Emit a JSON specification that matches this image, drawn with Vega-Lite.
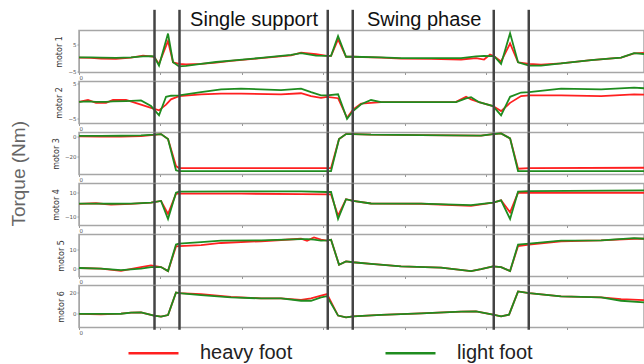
{
  "$schema": "https://vega.github.io/schema/vega-lite/v6.json",
  "background": "white",
  "padding": {"left": 8, "top": 7.5, "right": 0, "bottom": 0},
  "spacing": 9,
  "bounds": "flush",
  "config": {
    "view": {"stroke": "#a6a6a6", "strokeWidth": 1.5},
    "axis": {"domainColor": "#a6a6a6", "tickColor": "#999", "labelColor": "#555", "labelFont": "DejaVu Sans", "labelFontSize": 5.5, "tickSize": 2, "labelPadding": 1, "grid": false, "titleFont": "DejaVu Sans", "titleFontSize": 8, "titleFontWeight": "normal", "titleColor": "#333", "titlePadding": 4}
  },
  "resolve": {"scale": {"x": "independent", "y": "independent", "color": "shared"}, "legend": {"color": "shared"}},
  "datasets": {
    "phases": [{"x": 18.55}, {"x": 24.69}, {"x": 61.11}, {"x": 67.25}, {"x": 101.89}, {"x": 110.49}],
    "d": [
      {"m":1,"x":0,"heavy foot":0.2,"light foot":0.3},{"m":1,"x":2.95,"heavy foot":0.1,"light foot":0.3},{"m":1,"x":5.41,"heavy foot":-0.2,"light foot":0.2},{"m":1,"x":9.09,"heavy foot":-0.3,"light foot":0.1},{"m":1,"x":12.78,"heavy foot":0.2,"light foot":0.3},{"m":1,"x":15.72,"heavy foot":0.9,"light foot":0.6},{"m":1,"x":17.69,"heavy foot":0.6,"light foot":0.7},{"m":1,"x":18.43,"heavy foot":0.5,"light foot":0.6},{"m":1,"x":19.66,"heavy foot":-2.1,"light foot":-2.7},{"m":1,"x":21.87,"heavy foot":6.2,"light foot":8.9},{"m":1,"x":23.10,"heavy foot":-1.5,"light foot":-1.5},{"m":1,"x":24.57,"heavy foot":-2.1,"light foot":-3.0},{"m":1,"x":26.29,"heavy foot":-2.3,"light foot":-2.8},{"m":1,"x":29.98,"heavy foot":-2.1,"light foot":-2.1},{"m":1,"x":33.66,"heavy foot":-1.6,"light foot":-1.4},{"m":1,"x":37.35,"heavy foot":-1.0,"light foot":-0.9},{"m":1,"x":44.72,"heavy foot":0.0,"light foot":0.1},{"m":1,"x":52.09,"heavy foot":1.0,"light foot":1.2},{"m":1,"x":54.55,"heavy foot":2.0,"light foot":1.8},{"m":1,"x":58.23,"heavy foot":1.4,"light foot":0.9},{"m":1,"x":60.93,"heavy foot":0.8,"light foot":0.8},{"m":1,"x":61.92,"heavy foot":0.8,"light foot":0.8},{"m":1,"x":63.64,"heavy foot":6.8,"light foot":8.0},{"m":1,"x":65.60,"heavy foot":0.5,"light foot":0.5},{"m":1,"x":67.32,"heavy foot":0.5,"light foot":0.5},{"m":1,"x":74.20,"heavy foot":0.2,"light foot":0.3},{"m":1,"x":79.12,"heavy foot":-0.2,"light foot":0.0},{"m":1,"x":86.49,"heavy foot":-0.3,"light foot":0.0},{"m":1,"x":93.86,"heavy foot":-0.5,"light foot":0.0},{"m":1,"x":97.54,"heavy foot":0.0,"light foot":0.6},{"m":1,"x":99.51,"heavy foot":-0.5,"light foot":0.8},{"m":1,"x":100.98,"heavy foot":1.3,"light foot":0.7},{"m":1,"x":101.97,"heavy foot":0.7,"light foot":0.7},{"m":1,"x":103.69,"heavy foot":-1.2,"light foot":-2.1},{"m":1,"x":105.90,"heavy foot":5.3,"light foot":9.0},{"m":1,"x":107.86,"heavy foot":-1.5,"light foot":-1.5},{"m":1,"x":110.57,"heavy foot":-2.1,"light foot":-2.7},{"m":1,"x":113.51,"heavy foot":-2.4,"light foot":-2.7},{"m":1,"x":118.43,"heavy foot":-1.9,"light foot":-1.9},{"m":1,"x":125.80,"heavy foot":-0.7,"light foot":-0.7},{"m":1,"x":133.17,"heavy foot":0.2,"light foot":0.2},{"m":1,"x":136.36,"heavy foot":1.7,"light foot":1.8},{"m":1,"x":138.8,"heavy foot":1.9,"light foot":1.5},
      {"m":2,"x":0,"heavy foot":-0.2,"light foot":-0.2},{"m":2,"x":2.21,"heavy foot":0.3,"light foot":-0.1},{"m":2,"x":4.18,"heavy foot":-0.5,"light foot":-0.2},{"m":2,"x":6.63,"heavy foot":-0.5,"light foot":-0.2},{"m":2,"x":8.35,"heavy foot":0.3,"light foot":-0.1},{"m":2,"x":11.55,"heavy foot":0.3,"light foot":0.0},{"m":2,"x":15.23,"heavy foot":-1.0,"light foot":0.2},{"m":2,"x":17.69,"heavy foot":-1.9,"light foot":-1.4},{"m":2,"x":19.66,"heavy foot":-2.6,"light foot":-4.0},{"m":2,"x":21.38,"heavy foot":-1.0,"light foot":1.2},{"m":2,"x":22.60,"heavy foot":0.5,"light foot":1.5},{"m":2,"x":24.57,"heavy foot":1.4,"light foot":1.6},{"m":2,"x":29.98,"heavy foot":1.9,"light foot":2.5},{"m":2,"x":34.89,"heavy foot":2.1,"light foot":3.3},{"m":2,"x":39.80,"heavy foot":2.1,"light foot":3.5},{"m":2,"x":49.63,"heavy foot":1.9,"light foot":3.1},{"m":2,"x":54.55,"heavy foot":2.2,"light foot":3.5},{"m":2,"x":57.00,"heavy foot":1.4,"light foot":2.5},{"m":2,"x":59.46,"heavy foot":0.9,"light foot":1.6},{"m":2,"x":60.93,"heavy foot":1.2,"light foot":1.6},{"m":2,"x":63.64,"heavy foot":0.8,"light foot":1.9},{"m":2,"x":65.85,"heavy foot":-4.7,"light foot":-5.0},{"m":2,"x":67.32,"heavy foot":-2.4,"light foot":-2.8},{"m":2,"x":69.29,"heavy foot":-0.7,"light foot":-0.9},{"m":2,"x":71.74,"heavy foot":-0.5,"light foot":0.3},{"m":2,"x":74.20,"heavy foot":-0.3,"light foot":-0.3},{"m":2,"x":84.03,"heavy foot":-0.3,"light foot":-0.3},{"m":2,"x":92.63,"heavy foot":-0.2,"light foot":-0.3},{"m":2,"x":95.09,"heavy foot":1.2,"light foot":0.75},{"m":2,"x":96.31,"heavy foot":0.5,"light foot":1.1},{"m":2,"x":98.28,"heavy foot":-0.3,"light foot":-0.3},{"m":2,"x":101.72,"heavy foot":-1.4,"light foot":-1.4},{"m":2,"x":103.69,"heavy foot":-2.8,"light foot":-4.0},{"m":2,"x":105.90,"heavy foot":-0.5,"light foot":1.2},{"m":2,"x":108.60,"heavy foot":1.4,"light foot":2.4},{"m":2,"x":110.57,"heavy foot":1.6,"light foot":2.5},{"m":2,"x":118.43,"heavy foot":1.6,"light foot":3.5},{"m":2,"x":128.26,"heavy foot":1.4,"light foot":3.3},{"m":2,"x":136.36,"heavy foot":1.9,"light foot":3.8},{"m":2,"x":138.8,"heavy foot":1.8,"light foot":3.6},
      {"m":3,"x":0,"heavy foot":0.0,"light foot":0.5},{"m":3,"x":5.41,"heavy foot":-0.3,"light foot":0.5},{"m":3,"x":10.32,"heavy foot":-0.2,"light foot":0.6},{"m":3,"x":15.23,"heavy foot":0.3,"light foot":1.0},{"m":3,"x":18.43,"heavy foot":1.5,"light foot":1.7},{"m":3,"x":20.15,"heavy foot":2.3,"light foot":2.3},{"m":3,"x":21.87,"heavy foot":-2.7,"light foot":-2.7},{"m":3,"x":23.83,"heavy foot":-30,"light foot":-34.3},{"m":3,"x":24.57,"heavy foot":-32,"light foot":-35},{"m":3,"x":60.93,"heavy foot":-32,"light foot":-35},{"m":3,"x":61.92,"heavy foot":-32,"light foot":-35},{"m":3,"x":63.88,"heavy foot":-2.7,"light foot":-2.7},{"m":3,"x":65.60,"heavy foot":2.3,"light foot":2.3},{"m":3,"x":67.32,"heavy foot":2.3,"light foot":2.3},{"m":3,"x":71.74,"heavy foot":1.7,"light foot":1.7},{"m":3,"x":84.03,"heavy foot":1.2,"light foot":1.2},{"m":3,"x":98.77,"heavy foot":0.7,"light foot":0.7},{"m":3,"x":101.72,"heavy foot":2.3,"light foot":2.3},{"m":3,"x":103.69,"heavy foot":3.0,"light foot":3.0},{"m":3,"x":105.90,"heavy foot":-2.0,"light foot":-2.0},{"m":3,"x":107.86,"heavy foot":-32.7,"light foot":-35},{"m":3,"x":110.57,"heavy foot":-32,"light foot":-35},{"m":3,"x":138.8,"heavy foot":-31.7,"light foot":-35},
      {"m":4,"x":0,"heavy foot":0.3,"light foot":0.5},{"m":4,"x":4.18,"heavy foot":0.8,"light foot":0.5},{"m":4,"x":7.86,"heavy foot":-0.3,"light foot":0.4},{"m":4,"x":12.78,"heavy foot":0.2,"light foot":0.5},{"m":4,"x":17.69,"heavy foot":1.4,"light foot":1.4},{"m":4,"x":20.15,"heavy foot":2.8,"light foot":2.8},{"m":4,"x":21.87,"heavy foot":-8.3,"light foot":-12.5},{"m":4,"x":23.83,"heavy foot":9.0,"light foot":9.7},{"m":4,"x":24.57,"heavy foot":8.9,"light foot":10.6},{"m":4,"x":39.80,"heavy foot":8.9,"light foot":10.8},{"m":4,"x":54.55,"heavy foot":8.6,"light foot":10.8},{"m":4,"x":60.93,"heavy foot":8.3,"light foot":10.3},{"m":4,"x":61.92,"heavy foot":8.3,"light foot":10.3},{"m":4,"x":63.64,"heavy foot":-9.7,"light foot":-12.5},{"m":4,"x":65.60,"heavy foot":4.2,"light foot":4.2},{"m":4,"x":67.32,"heavy foot":2.8,"light foot":2.8},{"m":4,"x":71.74,"heavy foot":0.6,"light foot":0.6},{"m":4,"x":84.03,"heavy foot":0.4,"light foot":0.5},{"m":4,"x":96.31,"heavy foot":-1.4,"light foot":-0.8},{"m":4,"x":101.72,"heavy foot":1.4,"light foot":1.4},{"m":4,"x":103.69,"heavy foot":3.3,"light foot":3.3},{"m":4,"x":105.90,"heavy foot":-6.9,"light foot":-12.5},{"m":4,"x":107.86,"heavy foot":9.7,"light foot":10.6},{"m":4,"x":110.57,"heavy foot":9.7,"light foot":11.1},{"m":4,"x":138.8,"heavy foot":9.7,"light foot":11.7},
      {"m":5,"x":0,"heavy foot":0.3,"light foot":0.3},{"m":5,"x":5.41,"heavy foot":0,"light foot":0},{"m":5,"x":10.32,"heavy foot":-1.2,"light foot":-0.8},{"m":5,"x":15.23,"heavy foot":0.8,"light foot":0.0},{"m":5,"x":17.69,"heavy foot":1.7,"light foot":0.8},{"m":5,"x":20.15,"heavy foot":0.8,"light foot":0.8},{"m":5,"x":21.87,"heavy foot":-1.3,"light foot":-1.3},{"m":5,"x":23.83,"heavy foot":11.5,"light foot":12.5},{"m":5,"x":24.57,"heavy foot":11.7,"light foot":13.0},{"m":5,"x":29.98,"heavy foot":12.2,"light foot":13.7},{"m":5,"x":34.89,"heavy foot":13.3,"light foot":14.5},{"m":5,"x":44.72,"heavy foot":14.2,"light foot":14.7},{"m":5,"x":54.55,"heavy foot":15.5,"light foot":15.3},{"m":5,"x":56.02,"heavy foot":14.5,"light foot":15.3},{"m":5,"x":57.74,"heavy foot":16.2,"light foot":15.0},{"m":5,"x":59.46,"heavy foot":15.0,"light foot":14.5},{"m":5,"x":60.93,"heavy foot":14.5,"light foot":14.7},{"m":5,"x":61.92,"heavy foot":15.0,"light foot":15.0},{"m":5,"x":63.88,"heavy foot":2.0,"light foot":2.0},{"m":5,"x":65.60,"heavy foot":3.7,"light foot":3.7},{"m":5,"x":67.32,"heavy foot":3.3,"light foot":3.3},{"m":5,"x":71.74,"heavy foot":2.5,"light foot":2.5},{"m":5,"x":79.12,"heavy foot":1.2,"light foot":1.2},{"m":5,"x":88.94,"heavy foot":0.5,"light foot":0.5},{"m":5,"x":96.31,"heavy foot":-1.3,"light foot":-1.3},{"m":5,"x":98.77,"heavy foot":-0.3,"light foot":-0.3},{"m":5,"x":101.72,"heavy foot":1.2,"light foot":1.2},{"m":5,"x":103.69,"heavy foot":0.8,"light foot":0.8},{"m":5,"x":105.90,"heavy foot":-1.3,"light foot":-1.3},{"m":5,"x":107.86,"heavy foot":11.7,"light foot":12.5},{"m":5,"x":110.57,"heavy foot":12.5,"light foot":13.0},{"m":5,"x":118.43,"heavy foot":14.2,"light foot":14.5},{"m":5,"x":128.26,"heavy foot":14.7,"light foot":14.7},{"m":5,"x":136.36,"heavy foot":15.5,"light foot":15.8},{"m":5,"x":138.8,"heavy foot":15.5,"light foot":15.5},
      {"m":6,"x":0,"heavy foot":0,"light foot":0},{"m":6,"x":5.41,"heavy foot":-0.3,"light foot":0},{"m":6,"x":10.32,"heavy foot":0.3,"light foot":0.2},{"m":6,"x":12.78,"heavy foot":1.2,"light foot":1.2},{"m":6,"x":15.23,"heavy foot":1.5,"light foot":1.5},{"m":6,"x":18.43,"heavy foot":-1.5,"light foot":-1.5},{"m":6,"x":20.15,"heavy foot":-2.5,"light foot":-2.5},{"m":6,"x":21.87,"heavy foot":-1,"light foot":-1},{"m":6,"x":23.83,"heavy foot":20,"light foot":20},{"m":6,"x":24.57,"heavy foot":19.4,"light foot":19.4},{"m":6,"x":29.98,"heavy foot":18.5,"light foot":17.5},{"m":6,"x":37.35,"heavy foot":16,"light foot":15.4},{"m":6,"x":44.72,"heavy foot":14.5,"light foot":14.5},{"m":6,"x":49.63,"heavy foot":14.5,"light foot":14.5},{"m":6,"x":54.55,"heavy foot":13.2,"light foot":12.3},{"m":6,"x":57.00,"heavy foot":14.5,"light foot":12.3},{"m":6,"x":59.46,"heavy foot":17,"light foot":15.4},{"m":6,"x":60.93,"heavy foot":18.5,"light foot":16.5},{"m":6,"x":63.64,"heavy foot":-1.5,"light foot":-1.5},{"m":6,"x":65.60,"heavy foot":-3.1,"light foot":-3.1},{"m":6,"x":67.32,"heavy foot":-2.2,"light foot":-2.2},{"m":6,"x":74.20,"heavy foot":-0.9,"light foot":-0.9},{"m":6,"x":84.03,"heavy foot":0.6,"light foot":0.6},{"m":6,"x":93.86,"heavy foot":2.2,"light foot":2.2},{"m":6,"x":97.54,"heavy foot":2.5,"light foot":2.5},{"m":6,"x":101.72,"heavy foot":-0.6,"light foot":-0.6},{"m":6,"x":103.69,"heavy foot":-2.2,"light foot":-2.2},{"m":6,"x":105.65,"heavy foot":-0.6,"light foot":-0.6},{"m":6,"x":107.86,"heavy foot":21,"light foot":21},{"m":6,"x":110.57,"heavy foot":19.4,"light foot":19.4},{"m":6,"x":118.43,"heavy foot":16.3,"light foot":16.3},{"m":6,"x":128.26,"heavy foot":15.4,"light foot":15.4},{"m":6,"x":133.17,"heavy foot":13.8,"light foot":12.3},{"m":6,"x":138.8,"heavy foot":12.9,"light foot":10.8}
    ]
  },
  "data": {"name": "d"},
  "vconcat": [
    {
      "width": 565, "height": 42,
      "layer": [
        {
          "transform": [{"filter": "datum.m == 1"}, {"fold": ["heavy foot", "light foot"], "as": ["foot", "torque"]}],
          "mark": {"type": "line", "strokeWidth": 1.8},
          "encoding": {
            "x": {"field": "x", "type": "quantitative", "scale": {"domain": [0, 138.8], "nice": false, "zero": false}, "axis": {"title": null, "values": [0, 20, 40, 60, 80, 100, 120], "labelExpr": "datum.value == 0 ? '0' : ''", "domain": false}},
            "y": {"field": "torque", "type": "quantitative", "scale": {"domain": [-5.2, 10], "nice": false, "zero": false}, "axis": {"title": "motor 1", "values": [-5, 0, 5]}},
            "color": {"field": "foot", "type": "nominal", "scale": {"domain": ["heavy foot", "light foot"], "range": ["#ff2020", "#1f8c1f"]}, "legend": {"orient": "none", "legendX": 48, "legendY": 296, "direction": "horizontal", "title": null, "symbolType": "stroke", "symbolSize": 2500, "symbolStrokeWidth": 2.5, "labelFont": "Liberation Sans", "labelFontSize": 20, "labelColor": "#222", "labelOffset": 20, "columnPadding": 87, "padding": 0, "labelLimit": 300}}
          }
        },
        {
          "data": {"name": "phases"},
          "mark": {"type": "rule", "color": "#444", "strokeWidth": 2.5},
          "encoding": {"x": {"field": "x", "type": "quantitative", "scale": {"domain": [0, 138.8], "nice": false, "zero": false}}, "y": {"datum": 17.49, "type": "quantitative"}, "y2": {"datum": -8.5}}
        },
        {
          "data": {"values": [{"x": 43.0, "t": "Single support"}, {"x": 84.8, "t": "Swing phase"}]},
          "mark": {"type": "text", "font": "Liberation Sans", "fontSize": 20, "color": "#111", "baseline": "alphabetic", "align": "center"},
          "encoding": {"x": {"field": "x", "type": "quantitative", "scale": {"domain": [0, 138.8], "nice": false, "zero": false}}, "y": {"datum": 11.45, "type": "quantitative"}, "text": {"field": "t"}}
        }
      ]
    },
    {
      "width": 565, "height": 42,
      "layer": [
        {
          "transform": [{"filter": "datum.m == 2"}, {"fold": ["heavy foot", "light foot"], "as": ["foot", "torque"]}],
          "mark": {"type": "line", "strokeWidth": 1.8},
          "encoding": {
            "x": {"field": "x", "type": "quantitative", "scale": {"domain": [0, 138.8], "nice": false, "zero": false}, "axis": {"title": null, "values": [0, 20, 40, 60, 80, 100, 120], "labelExpr": "datum.value == 0 ? '0' : ''", "domain": false}},
            "y": {"field": "torque", "type": "quantitative", "scale": {"domain": [-6.3, 5.5], "nice": false, "zero": false}, "axis": {"title": "motor 2", "values": [-5, 0, 5]}},
            "color": {"field": "foot", "type": "nominal", "scale": {"domain": ["heavy foot", "light foot"], "range": ["#ff2020", "#1f8c1f"]}, "legend": {"orient": "none", "legendX": 48, "legendY": 296, "direction": "horizontal", "title": null, "symbolType": "stroke", "symbolSize": 2500, "symbolStrokeWidth": 2.5, "labelFont": "Liberation Sans", "labelFontSize": 20, "labelColor": "#222", "labelOffset": 20, "columnPadding": 87, "padding": 0, "labelLimit": 300}}
          }
        },
        {
          "data": {"name": "phases"},
          "mark": {"type": "rule", "color": "#444", "strokeWidth": 2.5},
          "encoding": {"x": {"field": "x", "type": "quantitative", "scale": {"domain": [0, 138.8], "nice": false, "zero": false}}, "y": {"datum": 5.5, "type": "quantitative"}, "y2": {"datum": -8.9}}
        }
      ]
    },
    {
      "width": 565, "height": 42,
      "layer": [
        {
          "transform": [{"filter": "datum.m == 3"}, {"fold": ["heavy foot", "light foot"], "as": ["foot", "torque"]}],
          "mark": {"type": "line", "strokeWidth": 1.8},
          "encoding": {
            "x": {"field": "x", "type": "quantitative", "scale": {"domain": [0, 138.8], "nice": false, "zero": false}, "axis": {"title": null, "values": [0, 20, 40, 60, 80, 100, 120], "labelExpr": "datum.value == 0 ? '0' : ''", "domain": false}},
            "y": {"field": "torque", "type": "quantitative", "scale": {"domain": [-38.5, 3.9], "nice": false, "zero": false}, "axis": {"title": "motor 3", "values": [-20, 0]}},
            "color": {"field": "foot", "type": "nominal", "scale": {"domain": ["heavy foot", "light foot"], "range": ["#ff2020", "#1f8c1f"]}, "legend": {"orient": "none", "legendX": 48, "legendY": 296, "direction": "horizontal", "title": null, "symbolType": "stroke", "symbolSize": 2500, "symbolStrokeWidth": 2.5, "labelFont": "Liberation Sans", "labelFontSize": 20, "labelColor": "#222", "labelOffset": 20, "columnPadding": 87, "padding": 0, "labelLimit": 300}}
          }
        },
        {
          "data": {"name": "phases"},
          "mark": {"type": "rule", "color": "#444", "strokeWidth": 2.5},
          "encoding": {"x": {"field": "x", "type": "quantitative", "scale": {"domain": [0, 138.8], "nice": false, "zero": false}}, "y": {"datum": 3.9, "type": "quantitative"}, "y2": {"datum": -47.7}}
        },
        {
          "data": {"values": [{"x": -14.86, "t": "Torque (Nm)"}]},
          "mark": {"type": "text", "angle": 270, "font": "Liberation Sans", "fontSize": 19, "color": "#666", "baseline": "middle", "align": "center"},
          "encoding": {"x": {"field": "x", "type": "quantitative", "scale": {"domain": [0, 138.8], "nice": false, "zero": false}}, "y": {"datum": -37.8, "type": "quantitative"}, "text": {"field": "t"}}
        }
      ]
    },
    {
      "width": 565, "height": 42,
      "layer": [
        {
          "transform": [{"filter": "datum.m == 4"}, {"fold": ["heavy foot", "light foot"], "as": ["foot", "torque"]}],
          "mark": {"type": "line", "strokeWidth": 1.8},
          "encoding": {
            "x": {"field": "x", "type": "quantitative", "scale": {"domain": [0, 138.8], "nice": false, "zero": false}, "axis": {"title": null, "values": [0, 20, 40, 60, 80, 100, 120], "labelExpr": "datum.value == 0 ? '0' : ''", "domain": false}},
            "y": {"field": "torque", "type": "quantitative", "scale": {"domain": [-18, 17.5], "nice": false, "zero": false}, "axis": {"title": "motor 4", "values": [-10, 0, 10]}},
            "color": {"field": "foot", "type": "nominal", "scale": {"domain": ["heavy foot", "light foot"], "range": ["#ff2020", "#1f8c1f"]}, "legend": {"orient": "none", "legendX": 48, "legendY": 296, "direction": "horizontal", "title": null, "symbolType": "stroke", "symbolSize": 2500, "symbolStrokeWidth": 2.5, "labelFont": "Liberation Sans", "labelFontSize": 20, "labelColor": "#222", "labelOffset": 20, "columnPadding": 87, "padding": 0, "labelLimit": 300}}
          }
        },
        {
          "data": {"name": "phases"},
          "mark": {"type": "rule", "color": "#444", "strokeWidth": 2.5},
          "encoding": {"x": {"field": "x", "type": "quantitative", "scale": {"domain": [0, 138.8], "nice": false, "zero": false}}, "y": {"datum": 17.5, "type": "quantitative"}, "y2": {"datum": -25.7}}
        }
      ]
    },
    {
      "width": 565, "height": 42,
      "layer": [
        {
          "transform": [{"filter": "datum.m == 5"}, {"fold": ["heavy foot", "light foot"], "as": ["foot", "torque"]}],
          "mark": {"type": "line", "strokeWidth": 1.8},
          "encoding": {
            "x": {"field": "x", "type": "quantitative", "scale": {"domain": [0, 138.8], "nice": false, "zero": false}, "axis": {"title": null, "values": [0, 20, 40, 60, 80, 100, 120], "labelExpr": "datum.value == 0 ? '0' : ''", "domain": false}},
            "y": {"field": "torque", "type": "quantitative", "scale": {"domain": [-4.1, 17.7], "nice": false, "zero": false}, "axis": {"title": "motor 5", "values": [0, 10]}},
            "color": {"field": "foot", "type": "nominal", "scale": {"domain": ["heavy foot", "light foot"], "range": ["#ff2020", "#1f8c1f"]}, "legend": {"orient": "none", "legendX": 48, "legendY": 296, "direction": "horizontal", "title": null, "symbolType": "stroke", "symbolSize": 2500, "symbolStrokeWidth": 2.5, "labelFont": "Liberation Sans", "labelFontSize": 20, "labelColor": "#222", "labelOffset": 20, "columnPadding": 87, "padding": 0, "labelLimit": 300}}
          }
        },
        {
          "data": {"name": "phases"},
          "mark": {"type": "rule", "color": "#444", "strokeWidth": 2.5},
          "encoding": {"x": {"field": "x", "type": "quantitative", "scale": {"domain": [0, 138.8], "nice": false, "zero": false}}, "y": {"datum": 17.7, "type": "quantitative"}, "y2": {"datum": -8.8}}
        }
      ]
    },
    {
      "width": 565, "height": 42,
      "layer": [
        {
          "transform": [{"filter": "datum.m == 6"}, {"fold": ["heavy foot", "light foot"], "as": ["foot", "torque"]}],
          "mark": {"type": "line", "strokeWidth": 1.8},
          "encoding": {
            "x": {"field": "x", "type": "quantitative", "scale": {"domain": [0, 138.8], "nice": false, "zero": false}, "axis": {"title": null, "values": [0, 20, 40, 60, 80, 100, 120], "labelExpr": "datum.value == 0 ? '0' : ''", "domain": false}},
            "y": {"field": "torque", "type": "quantitative", "scale": {"domain": [-12.6, 26.5], "nice": false, "zero": false}, "axis": {"title": "motor 6", "values": [0, 20]}},
            "color": {"field": "foot", "type": "nominal", "scale": {"domain": ["heavy foot", "light foot"], "range": ["#ff2020", "#1f8c1f"]}, "legend": {"orient": "none", "legendX": 48, "legendY": 296, "direction": "horizontal", "title": null, "symbolType": "stroke", "symbolSize": 2500, "symbolStrokeWidth": 2.5, "labelFont": "Liberation Sans", "labelFontSize": 20, "labelColor": "#222", "labelOffset": 20, "columnPadding": 87, "padding": 0, "labelLimit": 300}}
          }
        },
        {
          "data": {"name": "phases"},
          "mark": {"type": "rule", "color": "#444", "strokeWidth": 2.5},
          "encoding": {"x": {"field": "x", "type": "quantitative", "scale": {"domain": [0, 138.8], "nice": false, "zero": false}}, "y": {"datum": 26.5, "type": "quantitative"}, "y2": {"datum": -14.7}}
        }
      ]
    }
  ]
}
